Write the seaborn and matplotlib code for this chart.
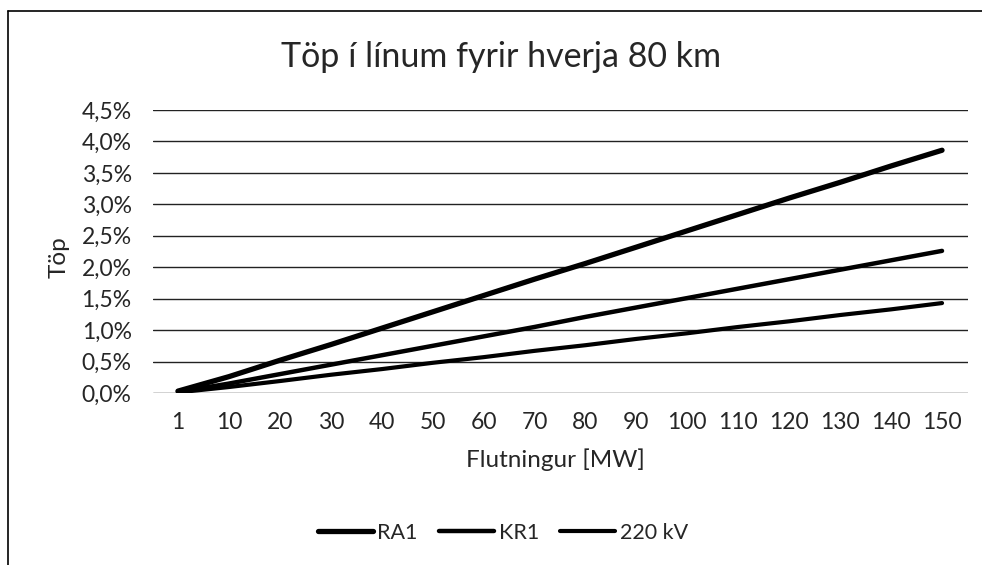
import seaborn as sns
import pandas as pd
import matplotlib.pyplot as plt
from matplotlib.ticker import FuncFormatter
from matplotlib.lines import Line2D

flutningur = ["1", "10", "20", "30", "40", "50", "60", "70", "80", "90",
              "100", "110", "120", "130", "140", "150"]
ra1 = [0.03, 0.26, 0.52, 0.77, 1.03, 1.29, 1.55, 1.81, 2.06, 2.32,
       2.58, 2.84, 3.10, 3.35, 3.61, 3.86]
kr1 = [0.015, 0.15, 0.30, 0.45, 0.60, 0.75, 0.90, 1.05, 1.21, 1.36,
       1.51, 1.66, 1.81, 1.96, 2.11, 2.26]
kv220 = [0.01, 0.095, 0.19, 0.29, 0.38, 0.48, 0.57, 0.67, 0.76, 0.86,
         0.95, 1.05, 1.14, 1.24, 1.33, 1.43]

df = pd.DataFrame({"Flutningur": flutningur, "RA1": ra1, "KR1": kr1, "220 kV": kv220})
df["pos"] = range(len(df))
long = df.melt(id_vars=["Flutningur", "pos"], var_name="lina", value_name="top")

sns.set_style("white")
plt.rcParams["font.family"] = ["Lato", "DejaVu Sans"]

fig = plt.figure(figsize=(9.82, 5.65), dpi=100)
ax = fig.add_axes([152.5 / 982, 172 / 565, 815 / 982, 283 / 565])

sns.lineplot(data=long, x="pos", y="top", hue="lina", size="lina",
             palette=["black", "black", "black"], sizes=[3.8, 3.2, 3.0],
             ax=ax, legend=False)

ax.set_xlim(-0.5, len(flutningur) - 0.5)
ax.set_ylim(0, 4.5)
ax.set_xticks(range(len(flutningur)))
ax.set_xticklabels(flutningur)
ax.set_yticks([i * 0.5 for i in range(10)])
ax.yaxis.set_major_formatter(FuncFormatter(lambda v, p: f"{v:.1f}%".replace(".", ",")))
ax.tick_params(axis="both", labelsize=16.5, length=0)
ax.tick_params(axis="x", pad=14)
ax.tick_params(axis="y", pad=15)
ax.grid(axis="y", color="#222222", linewidth=1.0)
for s in ax.spines.values():
    s.set_visible(False)

ax.set_xlabel("Flutningur [MW]", fontsize=17.5, va="center")
ax.xaxis.set_label_coords(0.495, -0.237)
ax.set_ylabel("Töp", fontsize=17.5, va="center")
ax.yaxis.set_label_coords(-0.115, 0.48)
fig.text(501 / 982, 1 - 57 / 565, "Töp í línum fyrir hverja 80 km",
         fontsize=24.5, ha="center", va="center")

handles = [Line2D([], [], color="black", lw=w) for w in [3.8, 3.2, 3.0]]
fig.legend(handles, ["RA1", "KR1", "220 kV"], loc="center",
           bbox_to_anchor=(503 / 982, 1 - 533 / 565), ncol=3, frameon=False,
           fontsize=15.5, handlelength=2.55, handletextpad=0.2, columnspacing=1.0)

# chart area border (top and left visible in the scan)
fig.add_artist(Line2D([8 / 982, 8 / 982], [0, 1 - 11 / 565], color="black", lw=1.2))
fig.add_artist(Line2D([8 / 982, 1], [1 - 11 / 565, 1 - 11 / 565], color="black", lw=1.2))

fig.savefig("out.png", dpi=100)
